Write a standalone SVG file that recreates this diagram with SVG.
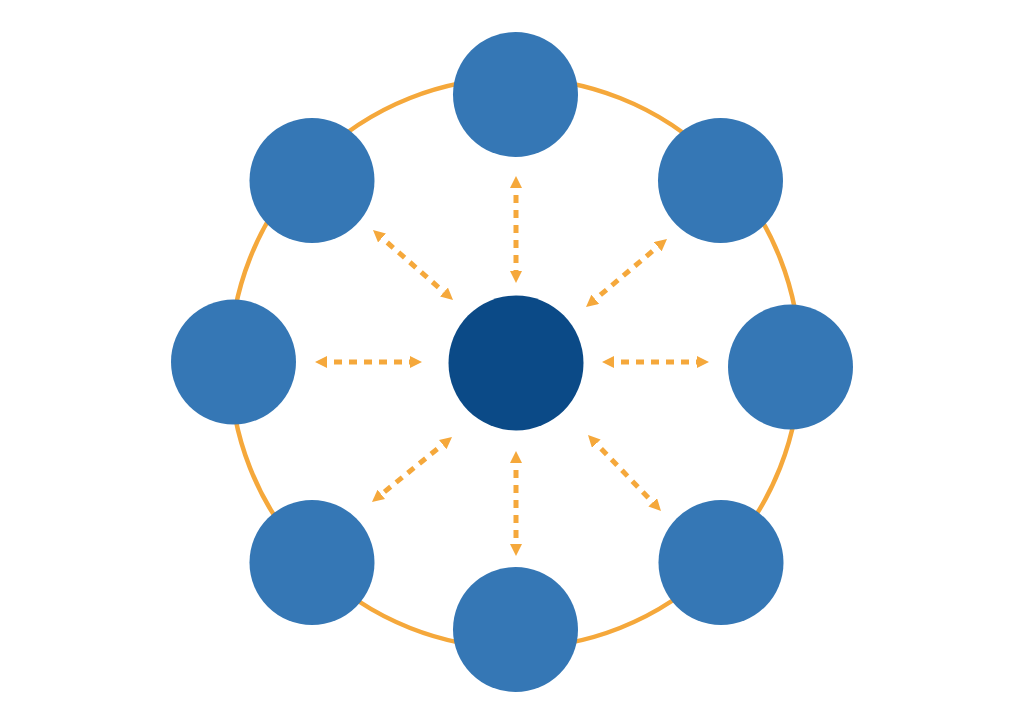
<svg xmlns="http://www.w3.org/2000/svg" width="1024" height="725" viewBox="0 0 1024 725">
<style>
.ring{fill:none;stroke:#F5A83B;stroke-width:4.5}
.node{fill:#3577B5}
.hub{fill:#0B4A87}
.conn{fill:none;stroke:#F5A83B;stroke-width:5;stroke-dasharray:8 7;stroke-dashoffset:8;marker-start:url(#ah);marker-end:url(#ah)}
</style>
<defs>
<marker id="ah" markerUnits="userSpaceOnUse" markerWidth="12" markerHeight="12" refX="0" refY="6" orient="auto-start-reverse">
<path d="M0,0 L12,6 L0,12 Z" fill="#F5A83B"/>
</marker>
</defs>
<rect width="1024" height="725" fill="#ffffff"/>
<circle class="ring" cx="515" cy="363" r="285"/>
<g id="connectors">
<path class="conn" d="M516,188 L516,271"/>
<path class="conn" d="M516,463 L516,544"/>
<path class="conn" d="M327,362 L410,362"/>
<path class="conn" d="M614,362 L697,362"/>
<path class="conn" d="M382,237.9 L444,292.1"/>
<path class="conn" d="M657.8,246.7 L595.2,299.3"/>
<path class="conn" d="M442.7,444.6 L381.3,494.4"/>
<path class="conn" d="M596.3,443.7 L652.7,502.3"/>
</g>
<g id="hub"><circle class="hub" cx="516" cy="363" r="67.5"/></g>
<g id="node-top"><circle class="node" cx="515.5" cy="94.5" r="62.5"/></g>
<g id="node-top-right"><circle class="node" cx="720.5" cy="180.5" r="62.5"/></g>
<g id="node-right"><circle class="node" cx="790.5" cy="367" r="62.5"/></g>
<g id="node-bottom-right"><circle class="node" cx="721" cy="562.5" r="62.5"/></g>
<g id="node-bottom"><circle class="node" cx="515.5" cy="629.5" r="62.5"/></g>
<g id="node-bottom-left"><circle class="node" cx="312" cy="562.5" r="62.5"/></g>
<g id="node-left"><circle class="node" cx="233.5" cy="362" r="62.5"/></g>
<g id="node-top-left"><circle class="node" cx="312" cy="180.5" r="62.5"/></g>
</svg>
